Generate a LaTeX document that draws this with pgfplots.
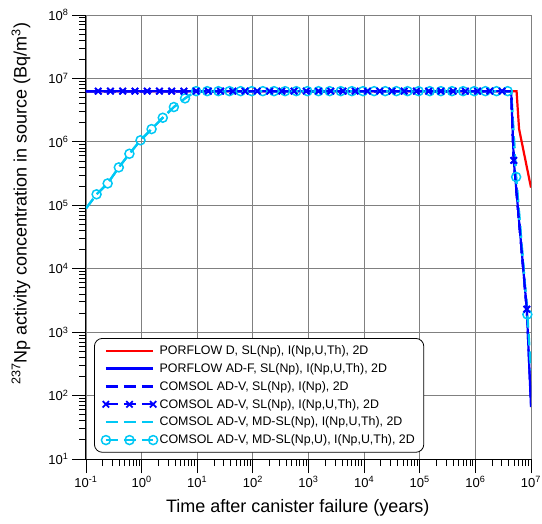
\documentclass[border=0pt]{standalone}
\usepackage{fontspec}
\setmainfont{Liberation Sans}
\usepackage{pgfplots}
\usepackage{pgfplotstable}
\pgfplotsset{compat=1.18}
\definecolor{cyanc}{RGB}{0,200,245}
\pgfplotstableread{
t y
0.1 6.3e6
0.166 6.3e6
0.275 6.3e6
0.457 6.3e6
0.759 6.3e6
1.26 6.3e6
2.09 6.3e6
3.47 6.3e6
5.75 6.3e6
9.55 6.3e6
15.8 6.3e6
26.3 6.3e6
43.7 6.3e6
72.4 6.3e6
120 6.3e6
200 6.3e6
331 6.3e6
550 6.3e6
912 6.3e6
1514 6.3e6
2512 6.3e6
4169 6.3e6
6918 6.3e6
11482 6.3e6
19055 6.3e6
31623 6.3e6
52481 6.3e6
87096 6.3e6
144544 6.3e6
239883 6.3e6
398107 6.3e6
660693 6.3e6
1096478 6.3e6
1819701 6.3e6
3019952 6.3e6
4.4e6 6.3e6
4.9e6 5.1e5
8.4e6 2.3e3
}\xdata
\begin{document}
\begin{tikzpicture}
\begin{axis}[
  scale only axis, width=445pt, height=444pt,
  xmode=log, ymode=log, xmin=0.1, xmax=1e7, ymin=10, ymax=1e8,
  axis x line*=bottom, axis y line*=left,
  axis line style={line width=1pt, black},
  tick align=outside, major tick length=14pt, minor tick length=7pt,
  every tick/.style={black, line width=0.9pt},
  grid=major, major grid style={black!50, line width=0.9pt},
  xtick={0.1,1,10,100,1000,10000,100000,1000000,10000000},
  xticklabels={10\textsuperscript{-1},10\textsuperscript{0},10\textsuperscript{1},10\textsuperscript{2},10\textsuperscript{3},10\textsuperscript{4},10\textsuperscript{5},10\textsuperscript{6},10\textsuperscript{7}},
  ytick={10,100,1000,10000,100000,1000000,10000000,100000000},
  yticklabels={10\textsuperscript{1},10\textsuperscript{2},10\textsuperscript{3},10\textsuperscript{4},10\textsuperscript{5},10\textsuperscript{6},10\textsuperscript{7},10\textsuperscript{8}},
  ticklabel style={font=\fontsize{13}{15}\selectfont},
  xlabel={Time after canister failure (years)},
  ylabel={\textsuperscript{237}Np activity concentration in source (Bq/m\textsuperscript{3})},
  label style={font=\fontsize{18}{21}\selectfont},
  xlabel style={at={(axis description cs:0.476,-0.11)}, anchor=center},
  ylabel style={at={(axis description cs:-0.146,0.575)}, anchor=center},
  legend style={at={(0.018,0.2725)}, anchor=north west, draw=black, line width=0.8pt,
    rounded corners=8pt, font=\fontsize{12.4}{14}\selectfont, row sep=3.4pt,
    inner xsep=7pt, inner ysep=5pt, cells={anchor=west}},
  legend image code/.code={\draw[#1, mark indices={1,2,3}] plot coordinates {(0cm,0cm) (0.83cm,0cm) (1.66cm,0cm)};},
  xstyle/.style={blue, line width=2.2pt, dash pattern=on 12pt off 6pt, mark=x, mark size=4.5pt,
  mark options={solid, line width=1.8pt}, mark indices={2,...,35,37,38}},
]
\addplot[red, line width=2.2pt] coordinates {(0.1,6.3e6) (5.5e6,6.3e6) (6.1e6,1.6e6) (1e7,1.9e5)};
\addlegendentry{PORFLOW D, SL(Np), I(Np,U,Th), 2D}
\addplot[blue, line width=2.2pt] coordinates {(0.1,6.3e6) (4.4e6,6.3e6) (4.9e6,5.1e5) (8.4e6,2.3e3) (1e7,66)};
\addlegendentry{PORFLOW AD-F, SL(Np), I(Np,U,Th), 2D}
\addplot[blue, line width=2.2pt, dash pattern=on 12pt off 6pt] coordinates {(0.1,6.3e6) (4.4e6,6.3e6) (4.9e6,5.1e5) (8.4e6,2.3e3) (1e7,70)};
\addlegendentry{COMSOL AD-V, SL(Np), I(Np), 2D}
\addplot[xstyle] table[x=t, y=y] {\xdata};
\addlegendentry{COMSOL AD-V, SL(Np), I(Np,U,Th), 2D}
\addplot[cyanc, line width=2.2pt, dash pattern=on 12pt off 6pt] coordinates {
  (0.1,8.9e4) (0.155,1.49e5) (0.245,2.21e5) (0.389,3.96e5) (0.603,6.49e5) (0.955,1.06e6)
  (1.51,1.59e6) (2.40,2.40e6) (3.80,3.54e6) (6.03,4.85e6) (9.55,6.3e6) (4.4e6,6.3e6)
  (5.4e6,2.8e5) (8.6e6,1.9e3) (1e7,250)};
\addlegendentry{COMSOL AD-V, MD-SL(Np), I(Np,U,Th), 2D}
\addplot[cyanc, line width=2.2pt, dash pattern=on 12pt off 6pt, mark=o, mark size=4.5pt,
  mark options={solid, line width=1.5pt}, mark indices={2,...,39,41,42}] coordinates {
  (0.1,8.9e4) (0.155,1.49e5) (0.245,2.21e5) (0.389,3.96e5) (0.603,6.49e5) (0.955,1.06e6)
  (1.51,1.59e6) (2.40,2.40e6) (3.80,3.54e6) (6.03,4.85e6)
  (9.55,6.3e6) (15.1,6.3e6) (24.0,6.3e6) (38.0,6.3e6) (60.3,6.3e6) (95.5,6.3e6) (151,6.3e6)
  (240,6.3e6) (380,6.3e6) (603,6.3e6) (955,6.3e6) (1514,6.3e6) (2399,6.3e6) (3802,6.3e6)
  (6026,6.3e6) (9550,6.3e6) (15136,6.3e6) (23988,6.3e6) (38019,6.3e6) (60256,6.3e6)
  (95499,6.3e6) (151356,6.3e6) (239883,6.3e6) (380189,6.3e6) (602560,6.3e6) (954993,6.3e6)
  (1513561,6.3e6) (2398833,6.3e6) (3801894,6.3e6) (4.4e6,6.3e6) (5.4e6,2.8e5) (8.6e6,1.9e3)};
\addlegendentry{COMSOL AD-V, MD-SL(Np,U), I(Np,U,Th), 2D}
\addplot[xstyle, forget plot] table[x=t, y=y] {\xdata};
\end{axis}
\pgfresetboundingbox
\path[use as bounding box] ([shift={(-86pt,-64pt)}]current axis.south west) rectangle ([shift={(11pt,15pt)}]current axis.north east);
\end{tikzpicture}
\end{document}
